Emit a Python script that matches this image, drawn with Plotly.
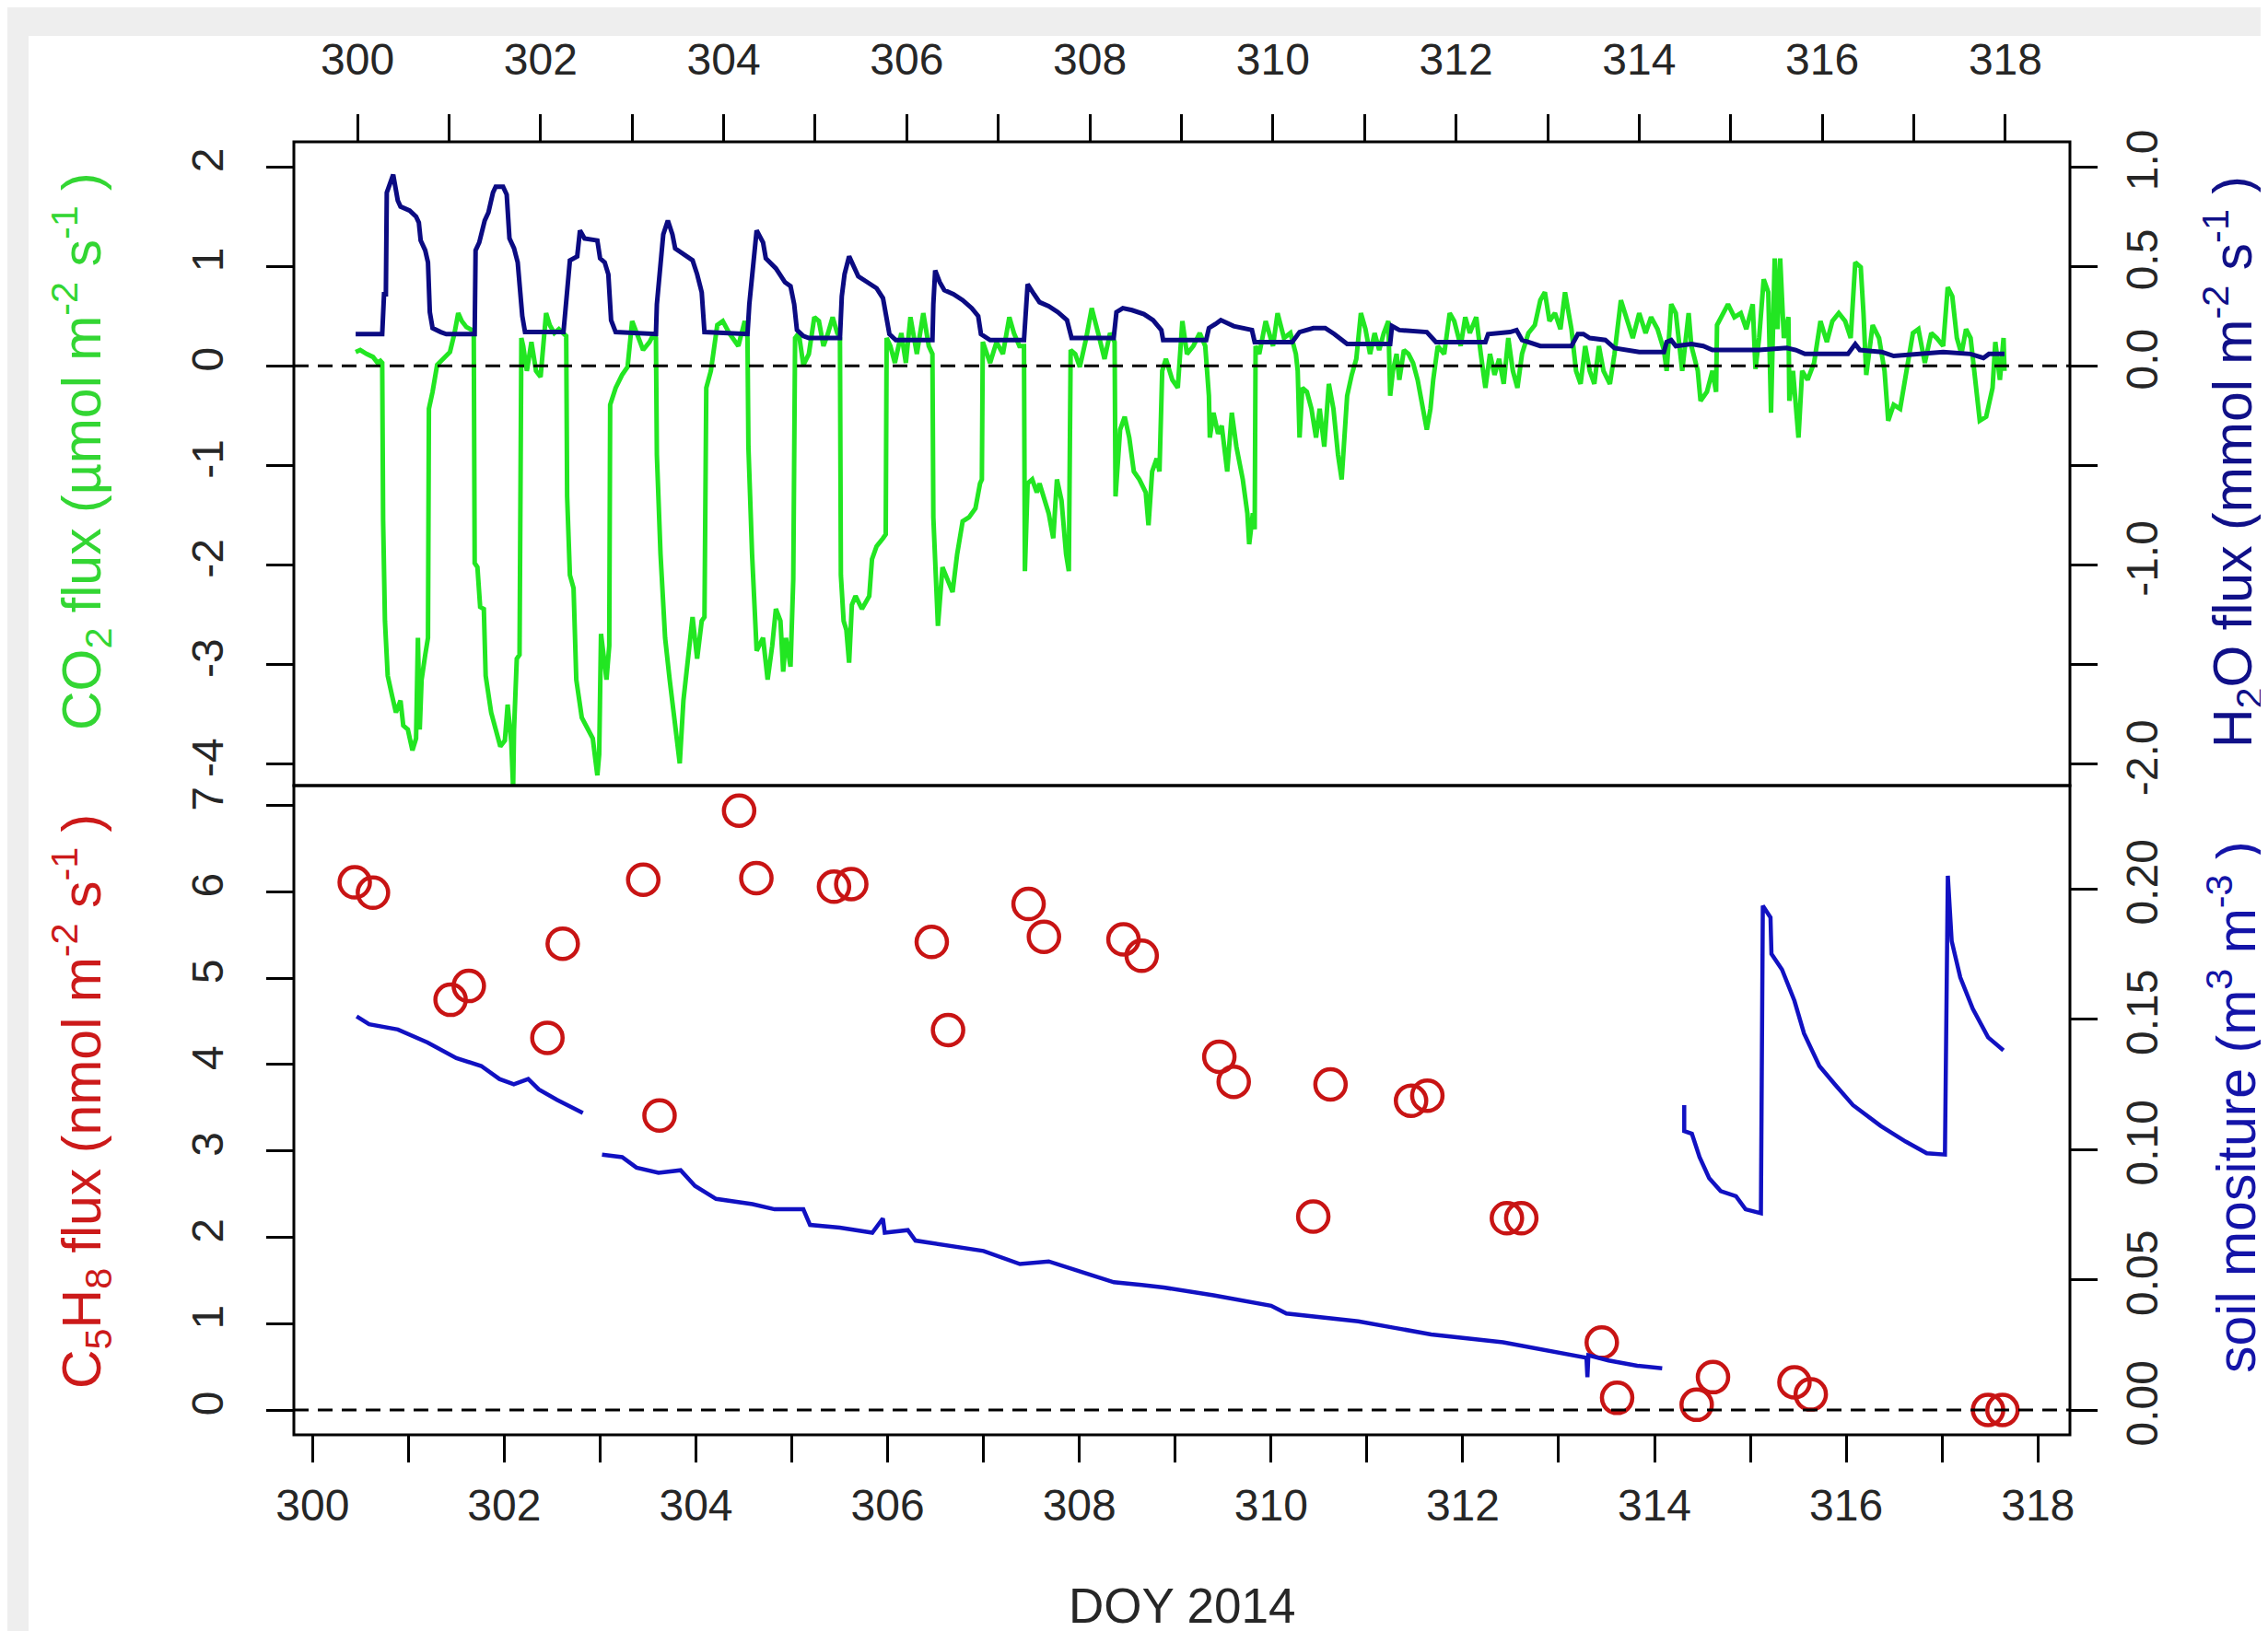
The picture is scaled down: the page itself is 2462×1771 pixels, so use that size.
import plotly.graph_objects as go

# ---------------- data ----------------
co2_day = [299.98, 300.03, 300.10, 300.17, 300.22, 300.25, 300.27, 300.28, 300.30, 300.33, 300.38, 300.42, 300.47,
           300.50, 300.55, 300.60, 300.64, 300.66, 300.68, 300.70, 300.74, 300.77, 300.78, 300.82, 300.87, 300.94,
           301.01, 301.06, 301.10, 301.14, 301.19, 301.25, 301.27, 301.28, 301.31, 301.34, 301.38, 301.40, 301.46,
           301.51, 301.56, 301.61, 301.64, 301.68, 301.70, 301.71, 301.74, 301.77, 301.79, 301.81, 301.85, 301.90,
           301.95, 302.00, 302.03, 302.06, 302.10, 302.15, 302.20, 302.25, 302.28, 302.29, 302.32, 302.36, 302.39,
           302.45, 302.52, 302.57, 302.62, 302.64, 302.66, 302.69, 302.72, 302.75, 302.76, 302.82, 302.89, 302.95,
           303.00, 303.05, 303.12, 303.19, 303.24, 303.26, 303.27, 303.31, 303.36, 303.41, 303.47, 303.52, 303.56,
           303.61, 303.66, 303.71, 303.76, 303.79, 303.81, 303.86, 303.93, 303.99, 304.06, 304.16, 304.23, 304.26,
           304.27, 304.31, 304.35, 304.36, 304.43, 304.48, 304.53, 304.57, 304.62, 304.65, 304.68, 304.73, 304.76,
           304.78, 304.82, 304.87, 304.93, 304.99, 305.04, 305.09, 305.14, 305.19, 305.24, 305.27, 305.28, 305.31,
           305.34, 305.37, 305.40, 305.44, 305.51, 305.59, 305.62, 305.67, 305.74, 305.77, 305.78, 305.82, 305.87,
           305.94, 305.99, 306.04, 306.11, 306.18, 306.24, 306.28, 306.29, 306.33, 306.34, 306.39, 306.44, 306.50,
           306.55, 306.61, 306.68, 306.75, 306.80, 306.82, 306.83, 306.86, 306.91, 306.98, 307.05, 307.12, 307.17,
           307.23, 307.28, 307.29, 307.32, 307.37, 307.42, 307.45, 307.50, 307.55, 307.60, 307.64, 307.69, 307.74,
           307.77, 307.79, 307.84, 307.89, 307.96, 308.02, 308.09, 308.16, 308.22, 308.27, 308.28, 308.33, 308.38,
           308.43, 308.48, 308.54, 308.61, 308.64, 308.68, 308.73, 308.76, 308.79, 308.83, 308.90, 308.96, 309.01,
           309.06, 309.13, 309.20, 309.26, 309.30, 309.31, 309.35, 309.40, 309.44, 309.47, 309.50, 309.55, 309.60,
           309.67, 309.72, 309.74, 309.78, 309.80, 309.81, 309.85, 309.92, 310.00, 310.05, 310.12, 310.19, 310.25,
           310.27, 310.29, 310.32, 310.37, 310.42, 310.47, 310.51, 310.56, 310.61, 310.66, 310.71, 310.75, 310.78,
           310.81, 310.86, 310.91, 310.96, 311.01, 311.06, 311.11, 311.16, 311.21, 311.26, 311.28, 311.31, 311.35,
           311.38, 311.43, 311.48, 311.53, 311.58, 311.63, 311.68, 311.72, 311.75, 311.80, 311.87, 311.93, 311.98,
           312.05, 312.10, 312.15, 312.22, 312.27, 312.32, 312.37, 312.42, 312.47, 312.52, 312.57, 312.62, 312.67,
           312.72, 312.79, 312.86, 312.92, 312.97, 313.02, 313.08, 313.14, 313.19, 313.26, 313.31, 313.36, 313.41,
           313.46, 313.51, 313.56, 313.61, 313.68, 313.73, 313.80, 313.86, 313.93, 314.00, 314.07, 314.13, 314.20,
           314.27, 314.30, 314.35, 314.40, 314.47, 314.54, 314.57, 314.64, 314.67, 314.74, 314.80, 314.84, 314.85,
           314.90, 314.97, 315.04, 315.11, 315.17, 315.24, 315.27, 315.31, 315.36, 315.41, 315.44, 315.48, 315.51,
           315.54, 315.58, 315.63, 315.64, 315.68, 315.74, 315.78, 315.84, 315.91, 315.98, 316.05, 316.11, 316.18,
           316.25, 316.31, 316.36, 316.42, 316.45, 316.48, 316.55, 316.62, 316.68, 316.72, 316.78, 316.85, 316.92,
           316.99, 317.05, 317.12, 317.19, 317.25, 317.32, 317.37, 317.42, 317.47, 317.52, 317.57, 317.62, 317.66,
           317.72, 317.79, 317.86, 317.89, 317.94, 317.98, 317.99]
co2_flux = [0.14, 0.16, 0.12, 0.09, 0.03, 0.05, 0.03, -1.56, -2.56, -3.11, -3.32, -3.48, -3.36,
            -3.61, -3.65, -3.86, -3.74, -2.73, -3.65, -3.15, -2.90, -2.73, -0.43, -0.26, 0.01, 0.07,
            0.14, 0.33, 0.53, 0.45, 0.39, 0.36, 0.33, -1.98, -2.02, -2.42, -2.44, -3.11, -3.48,
            -3.65, -3.82, -3.76, -3.40, -3.78, -4.24, -3.65, -2.94, -2.90, 0.28, 0.20, -0.05, 0.24,
            -0.05, -0.11, 0.20, 0.53, 0.41, 0.33, 0.37, 0.33, 0.30, -1.31, -2.10, -2.23, -3.15,
            -3.53, -3.65, -3.74, -4.11, -3.90, -2.69, -2.94, -3.15, -2.81, -0.39, -0.22, -0.09, -0.01,
            0.45, 0.33, 0.16, 0.24, 0.33, 0.28, -0.89, -1.89, -2.73, -3.15, -3.57, -3.99, -3.36,
            -2.94, -2.52, -2.94, -2.56, -2.52, -0.22, -0.05, 0.41, 0.45, 0.33, 0.20, 0.45, 0.28,
            -0.81, -1.89, -2.52, -2.86, -2.73, -3.15, -2.81, -2.44, -2.56, -3.07, -2.73, -3.02, -2.14,
            0.28, 0.33, 0.01, 0.12, 0.49, 0.45, 0.20, 0.33, 0.49, 0.33, 0.28, -2.10, -2.56,
            -2.65, -2.98, -2.40, -2.31, -2.44, -2.31, -1.94, -1.81, -1.73, -1.69, 0.28, 0.20, 0.03,
            0.33, 0.03, 0.49, 0.12, 0.53, 0.20, 0.12, -1.52, -2.31, -2.61, -2.02, -2.14, -2.27,
            -1.89, -1.56, -1.52, -1.43, -1.18, -1.14, 0.24, 0.16, 0.03, 0.24, 0.12, 0.49, 0.33,
            0.20, 0.20, -2.06, -1.18, -1.14, -1.27, -1.18, -1.35, -1.48, -1.73, -1.14, -1.35, -1.89,
            -2.06, 0.16, 0.12, -0.01, 0.28, 0.58, 0.33, 0.07, 0.33, 0.24, -1.31, -0.64, -0.51,
            -0.72, -1.06, -1.14, -1.27, -1.60, -1.06, -0.93, -1.06, -0.05, 0.07, -0.14, -0.22, 0.45,
            0.12, 0.20, 0.33, 0.20, -0.30, -0.72, -0.47, -0.68, -0.60, -0.89, -1.06, -0.47, -0.81,
            -1.14, -1.48, -1.79, -1.48, -1.64, 0.20, 0.12, 0.45, 0.20, 0.53, 0.28, 0.33, 0.12,
            -0.05, -0.72, -0.22, -0.26, -0.43, -0.72, -0.43, -0.81, -0.18, -0.43, -0.89, -1.14, -0.64,
            -0.30, -0.09, 0.07, 0.53, 0.37, 0.12, 0.33, 0.16, 0.33, 0.45, -0.30, -0.05, 0.12,
            -0.14, 0.16, 0.12, 0.03, -0.14, -0.39, -0.64, -0.43, -0.14, 0.20, 0.12, 0.53, 0.45,
            0.20, 0.49, 0.33, 0.49, 0.12, -0.22, 0.12, -0.09, 0.07, -0.18, 0.28, -0.05, -0.22,
            0.12, 0.33, 0.41, 0.66, 0.74, 0.45, 0.53, 0.37, 0.74, 0.37, -0.05, -0.18, 0.20,
            -0.05, -0.18, 0.20, -0.05, -0.18, 0.12, 0.66, 0.49, 0.28, 0.53, 0.33, 0.49, 0.37,
            0.16, -0.05, 0.62, 0.53, -0.05, 0.53, 0.20, -0.05, -0.35, -0.26, -0.05, -0.26, 0.41,
            0.49, 0.62, 0.49, 0.53, 0.37, 0.62, -0.03, 0.28, 0.87, 0.74, -0.47, 1.08, 0.37,
            1.08, 0.28, 0.49, -0.35, -0.05, -0.72, -0.05, -0.14, 0.03, 0.45, 0.24, 0.45, 0.53,
            0.45, 0.28, 1.04, 0.99, 0.53, -0.09, 0.41, 0.28, -0.05, -0.55, -0.39, -0.43, -0.05,
            0.33, 0.37, 0.03, 0.33, 0.28, 0.20, 0.79, 0.70, 0.28, 0.12, 0.37, 0.28, -0.05,
            -0.55, -0.51, -0.22, 0.24, -0.14, 0.28, -0.05]

h2o_day = [299.98, 300.27, 300.29, 300.31, 300.32, 300.39, 300.44, 300.47, 300.57, 300.64, 300.67, 300.69, 300.74,
           300.77, 300.79, 300.82, 300.91, 300.97, 301.28, 301.29, 301.33, 301.39, 301.43, 301.48, 301.51, 301.59,
           301.63, 301.66, 301.71, 301.75, 301.80, 301.83, 302.25, 302.28, 302.32, 302.40, 302.43, 302.48, 302.62,
           302.65, 302.70, 302.74, 302.77, 302.82, 303.26, 303.27, 303.31, 303.34, 303.39, 303.44, 303.47, 303.57,
           303.66, 303.71, 303.76, 303.79, 304.26, 304.28, 304.33, 304.36, 304.43, 304.46, 304.57, 304.67, 304.73,
           304.77, 304.80, 304.87, 304.93, 305.27, 305.29, 305.32, 305.37, 305.42, 305.47, 305.57, 305.67, 305.74,
           305.77, 305.81, 305.88, 306.28, 306.29, 306.31, 306.36, 306.41, 306.51, 306.61, 306.71, 306.78, 306.81,
           306.91, 307.28, 307.30, 307.32, 307.39, 307.45, 307.55, 307.65, 307.75, 307.80, 308.26, 308.29, 308.36,
           308.46, 308.59, 308.69, 308.78, 308.80, 309.27, 309.30, 309.37, 309.43, 309.57, 309.67, 309.77, 309.80,
           310.21, 310.29, 310.44, 310.57, 310.67, 310.81, 311.28, 311.30, 311.38, 311.68, 311.78, 312.32, 312.35,
           312.59, 312.66, 312.72, 312.92, 313.26, 313.33, 313.39, 313.46, 313.63, 313.73, 314.00, 314.27, 314.30,
           314.35, 314.40, 314.57, 314.70, 314.80, 315.31, 315.51, 315.61, 315.71, 315.81, 316.28, 316.36, 316.41,
           316.65, 316.78, 317.32, 317.62, 317.76, 317.82, 317.99]
h2o_flux = [0.16, 0.16, 0.36, 0.36, 0.87, 0.96, 0.83, 0.80, 0.78, 0.75, 0.72, 0.63, 0.58,
            0.52, 0.27, 0.19, 0.17, 0.16, 0.16, 0.58, 0.62, 0.73, 0.77, 0.87, 0.90, 0.90,
            0.86, 0.64, 0.59, 0.52, 0.25, 0.17, 0.17, 0.35, 0.53, 0.55, 0.68, 0.64, 0.63,
            0.54, 0.52, 0.46, 0.23, 0.17, 0.16, 0.31, 0.52, 0.66, 0.73, 0.66, 0.59, 0.56,
            0.53, 0.46, 0.37, 0.17, 0.16, 0.31, 0.56, 0.68, 0.62, 0.54, 0.49, 0.42, 0.40,
            0.31, 0.18, 0.15, 0.14, 0.14, 0.35, 0.46, 0.55, 0.50, 0.45, 0.42, 0.39, 0.34,
            0.27, 0.16, 0.13, 0.13, 0.31, 0.48, 0.42, 0.38, 0.36, 0.33, 0.29, 0.25, 0.16,
            0.13, 0.13, 0.31, 0.41, 0.36, 0.32, 0.30, 0.27, 0.23, 0.14, 0.14, 0.27, 0.29,
            0.28, 0.26, 0.23, 0.18, 0.13, 0.13, 0.19, 0.21, 0.23, 0.20, 0.19, 0.18, 0.12,
            0.12, 0.17, 0.19, 0.19, 0.16, 0.11, 0.11, 0.20, 0.18, 0.17, 0.12, 0.12, 0.16,
            0.17, 0.18, 0.13, 0.10, 0.10, 0.16, 0.16, 0.14, 0.13, 0.09, 0.07, 0.07, 0.12,
            0.13, 0.10, 0.11, 0.10, 0.08, 0.08, 0.09, 0.09, 0.08, 0.06, 0.06, 0.11, 0.08,
            0.07, 0.05, 0.07, 0.06, 0.04, 0.06, 0.06]

c5h8_day = [300.44, 300.63, 301.44, 301.63, 302.45, 302.61, 303.45, 303.62, 304.45, 304.63, 305.44, 305.62,
            306.46, 306.63, 307.47, 307.63, 308.46, 308.65, 309.46, 309.61, 310.44, 310.62, 311.46, 311.63,
            312.46, 312.61, 313.45, 313.61, 314.44, 314.61, 315.46, 315.63, 317.48, 317.63]
c5h8_flux = [6.11, 5.99, 4.75, 4.91, 4.31, 5.40, 6.14, 3.41, 6.94, 6.16, 6.06, 6.09,
             5.42, 4.40, 5.86, 5.48, 5.45, 5.26, 4.09, 3.80, 2.24, 3.77, 3.58, 3.64,
             2.22, 2.22, 0.78, 0.14, 0.06, 0.38, 0.32, 0.18, 0.00, 0.00]

soil_day = [300.46, 300.59, 300.89, 301.20, 301.50, 301.76, 301.95, 302.10, 302.25, 302.36, 302.55, 302.82, None,
            303.02, 303.23, 303.38, 303.61, 303.84, 303.99, 304.21, 304.59, 304.82, 305.12, 305.19, 305.50, 305.84,
            305.95, 305.97, 306.21, 306.29, 306.63, 307.00, 307.38, 307.68, 308.06, 308.36, 308.65, 308.88, 309.40,
            310.00, 310.16, 310.91, 311.29, 311.67, 312.42, 312.88, 313.29, 313.30, 313.31, 313.52, 313.82, 314.08,
            None,
            314.31, 314.31, 314.39, 314.47, 314.57, 314.69, 314.85, 314.95, 315.11, 315.13, 315.21, 315.22, 315.33,
            315.46, 315.56, 315.72, 315.88, 316.07, 316.36, 316.62, 316.84, 317.03, 317.06, 317.10, 317.19, 317.32,
            317.48, 317.64]
soil_moisture = [0.151, 0.148, 0.146, 0.141, 0.135, 0.132, 0.127, 0.125, 0.127, 0.123, 0.119, 0.114, None,
                 0.098, 0.097, 0.093, 0.091, 0.092, 0.086, 0.081, 0.079, 0.077, 0.077, 0.071, 0.070, 0.068,
                 0.0735, 0.068, 0.069, 0.065, 0.063, 0.061, 0.056, 0.057, 0.0525, 0.049, 0.048, 0.047, 0.044,
                 0.040, 0.037, 0.034, 0.0315, 0.029, 0.026, 0.023, 0.020, 0.0126, 0.021, 0.019, 0.017, 0.016,
                 None,
                 0.117, 0.107, 0.106, 0.097, 0.089, 0.084, 0.082, 0.077, 0.0755, 0.1935, 0.189, 0.175, 0.169,
                 0.157, 0.1445, 0.132, 0.125, 0.117, 0.109, 0.103, 0.0985, 0.098, 0.205, 0.180, 0.166, 0.154,
                 0.143, 0.138]

day_ticks = list(range(300, 319))
day_labels = [str(d) if d % 2 == 0 else "" for d in day_ticks]
co2_ticks = [-4, -3, -2, -1, 0, 1, 2]
co2_labels = ["-4", "-3", "-2", "-1", "0", "1", "2"]
h2o_ticks = [-2.0, -1.5, -1.0, -0.5, 0.0, 0.5, 1.0]
h2o_labels = ["-2.0", "", "-1.0", "", "0.0", "0.5", "1.0"]
c5h8_ticks = [0, 1, 2, 3, 4, 5, 6, 7]
c5h8_labels = [str(v) for v in c5h8_ticks]
soil_ticks = [0.00, 0.05, 0.10, 0.15, 0.20]
soil_labels = ["0.00", "0.05", "0.10", "0.15", "0.20"]

# ---------------- styling ----------------
W, H = 2462, 1771
L, R, T, B = 311, 2239, 146, 1550
PW, PH = R - L, B - T
split = 1 - (845 - T) / PH

FONT = "Liberation Sans, Arial, Helvetica, sans-serif"
TICKCOL = "#262626"
GREEN = "#22E622"
NAVY = "#0B0B82"
RED = "#C81414"
BLUE = "#1111C2"


def px_x(p):
    return (p - L) / PW


def px_y(p):
    return (B - p) / PH


fig = go.Figure()
fig.add_trace(go.Scatter(x=co2_day, y=co2_flux, xaxis="x2", yaxis="y3", mode="lines",
                         line=dict(color=GREEN, width=5), showlegend=False))
fig.add_trace(go.Scatter(x=h2o_day, y=h2o_flux, xaxis="x2", yaxis="y4", mode="lines",
                         line=dict(color=NAVY, width=5), showlegend=False))
fig.add_trace(go.Scatter(x=c5h8_day, y=c5h8_flux, xaxis="x", yaxis="y", mode="markers",
                         marker=dict(symbol="circle-open", size=33, color=RED, line=dict(width=4.5, color=RED)),
                         showlegend=False))
fig.add_trace(go.Scatter(x=soil_day, y=soil_moisture, xaxis="x", yaxis="y2", mode="lines",
                         line=dict(color=BLUE, width=4.5), connectgaps=False, showlegend=False))

tickstyle = dict(ticks="outside", ticklen=29, tickwidth=3, tickcolor="black", showgrid=False,
                 zeroline=False, showline=False, tickfont=dict(family=FONT, size=48, color=TICKCOL),
                 tickmode="array")

fig.update_layout(
    width=W, height=H,
    margin=dict(l=L, r=W - R, t=T, b=H - B, autoexpand=False),
    paper_bgcolor="white", plot_bgcolor="white",
    xaxis=dict(domain=[0, 1], anchor="y", range=[299.805, 318.334], tickvals=day_ticks, ticktext=day_labels,
               ticklabelstandoff=5, **tickstyle),
    yaxis=dict(domain=[0, split], anchor="x", range=[-0.288, 7.231], tickvals=c5h8_ticks, ticktext=c5h8_labels,
               tickangle=-90, ticklabelstandoff=28, **tickstyle),
    yaxis2=dict(overlaying="y", side="right", anchor="x", range=[-0.00954, 0.2396], tickvals=soil_ticks,
                ticktext=soil_labels, tickangle=-90, ticklabelstandoff=7, **tickstyle),
    xaxis2=dict(domain=[0, 1], anchor="y3", side="top", range=[299.305, 318.705], tickvals=day_ticks,
                ticktext=day_labels, ticklabelstandoff=24, **tickstyle),
    yaxis3=dict(domain=[split, 1], anchor="x2", range=[-4.213, 2.25], tickvals=co2_ticks, ticktext=co2_labels,
                tickangle=-90, ticklabelstandoff=28, **tickstyle),
    yaxis4=dict(overlaying="y3", side="right", anchor="x2", range=[-2.1065, 1.125], tickvals=h2o_ticks,
                ticktext=h2o_labels, tickangle=-90, ticklabelstandoff=7, **tickstyle),
)

shapes = [
    # grey strips of the original screenshot
    dict(type="rect", xref="paper", yref="paper", x0=px_x(0), x1=px_x(23), y0=px_y(H), y1=px_y(0),
         fillcolor="#EEEEEE", line=dict(width=0), layer="below"),
    dict(type="rect", xref="paper", yref="paper", x0=px_x(0), x1=px_x(W), y0=px_y(31), y1=px_y(0),
         fillcolor="#EEEEEE", line=dict(width=0), layer="below"),
    # zero lines
    dict(type="line", xref="paper", x0=0, x1=1, yref="y3", y0=0, y1=0,
         line=dict(color="black", width=3, dash="16px,10px")),
    dict(type="line", xref="paper", x0=0, x1=1, yref="y", y0=0, y1=0,
         line=dict(color="black", width=3, dash="16px,10px")),
    # panel frames
    dict(type="rect", xref="paper", yref="paper", x0=0, x1=1, y0=split, y1=1,
         line=dict(color="black", width=3), fillcolor="rgba(0,0,0,0)"),
    dict(type="rect", xref="paper", yref="paper", x0=0, x1=1, y0=0, y1=split,
         line=dict(color="black", width=3), fillcolor="rgba(0,0,0,0)"),
]
fig.update_layout(shapes=shapes)

TF = 59
ann = [
    dict(text="CO<sub>2</sub> flux (µmol m<sup>-2</sup> s<sup>-1</sup> )", x=px_x(80), y=px_y(482),
         font=dict(color="#33D633", size=TF, family=FONT)),
    dict(text="C<sub>5</sub>H<sub>8</sub> flux (nmol m<sup>-2</sup> s<sup>-1</sup> )", x=px_x(80), y=px_y(1188),
         font=dict(color="#CC1A1A", size=TF, family=FONT)),
    dict(text="H<sub>2</sub>O flux (mmol m<sup>-2</sup> s<sup>-1</sup> )", x=px_x(2415), y=px_y(494),
         font=dict(color="#101088", size=TF, family=FONT)),
    dict(text="soil mositure (m<sup>3</sup> m<sup>-3</sup> )", x=px_x(2415), y=px_y(1194),
         font=dict(color="#1414A8", size=TF, family=FONT)),
]
annotations = []
for a in ann:
    a.update(xref="paper", yref="paper", showarrow=False, textangle=-90, xanchor="center", yanchor="middle")
    annotations.append(a)
annotations.append(dict(text="DOY 2014", x=px_x(1275), y=px_y(1735), xref="paper", yref="paper",
                        showarrow=False, xanchor="center", yanchor="middle",
                        font=dict(color=TICKCOL, size=53, family=FONT)))
fig.update_layout(annotations=annotations)

fig.write_html("out.html")
